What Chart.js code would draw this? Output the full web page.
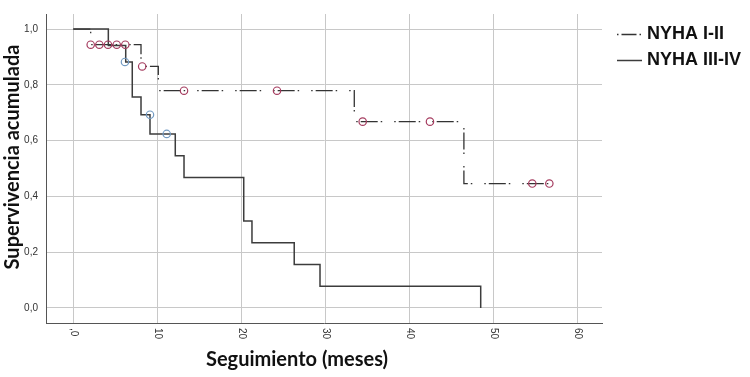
<!DOCTYPE html>
<html>
<head>
<meta charset="utf-8">
<script src="https://cdn.jsdelivr.net/npm/chart.js@4.4.0/dist/chart.umd.min.js"></script>
<style>
  body { margin: 0; background: #fff; }
  #wrap { width: 750px; height: 377px; }
</style>
</head>
<body>
<div id="wrap"><canvas id="km"></canvas></div>
<script>
// Curvas de Kaplan-Meier
const tiempoI = [0, 2.07, 8.06, 10.12, 33.45, 46.5, 56.67];
const survI = [1, 0.944, 0.866, 0.779, 0.668, 0.446, 0.446];
const censI_t = [2.07, 3.1, 4.13, 5.17, 6.19, 8.2, 13.18, 24.25, 34.45, 42.46, 54.64, 56.67];
const censI_s = [0.944, 0.944, 0.944, 0.944, 0.944, 0.866, 0.779, 0.779, 0.668, 0.668, 0.446, 0.446];

const tiempoIII = [0, 4.17, 6.24, 7.02, 8.06, 9.13, 12.14, 13.18, 20.29, 21.27, 26.3, 29.37, 48.5];
const survIII = [1, 0.941, 0.882, 0.756, 0.693, 0.624, 0.546, 0.468, 0.312, 0.234, 0.156, 0.078, 0];
const censIII_t = [6.15, 9.13, 11.12];
const censIII_s = [0.882, 0.693, 0.624];

const xTicks = [0, 10, 20, 30, 40, 50, 60];
const xLabels = [",0", "10", "20", "30", "40", "50", "60"];
const yTicks = [0, 0.2, 0.4, 0.6, 0.8, 1.0];
const yLabels = ["0,0", "0,2", "0,4", "0,6", "0,8", "1,0"];
const series = ["NYHA I-II", "NYHA III-IV"];

const puntos = (xs, ys) => xs.map((x, i) => ({ x: x, y: ys[i] }));

const rojo = "rgb(165, 60, 95)";
const azul = "rgb(115, 155, 195)";
const guion = [17, 3, 1.5, 12, 1.5, 3];

// dibuja etiquetas giradas del eje x, titulos y leyenda
const extras = {
  id: "extras",
  afterDraw(chart) {
    const ctx = chart.ctx;
    const xs = chart.scales.x;
    ctx.save();
    ctx.fillStyle = "#333";
    ctx.font = "10px 'Liberation Sans', Arial, sans-serif";
    ctx.textAlign = "left";
    ctx.textBaseline = "middle";
    xTicks.forEach((v, i) => {
      ctx.save();
      ctx.translate(xs.getPixelForValue(v), 328);
      ctx.rotate(Math.PI / 2);
      ctx.fillText(xLabels[i], 0, 0);
      ctx.restore();
    });

    ctx.fillStyle = "#111";
    ctx.font = "bold 20px Lato, sans-serif";
    ctx.textAlign = "center";
    ctx.textBaseline = "alphabetic";
    ctx.fillText("Seguimiento (meses)", 297, 366);
    ctx.save();
    ctx.translate(19, 157);
    ctx.rotate(-Math.PI / 2);
    ctx.fillText("Supervivencia acumulada", 0, 0);
    ctx.restore();

    // leyenda
    ctx.font = "bold 18px 'Liberation Sans', Arial, sans-serif";
    ctx.textAlign = "left";
    ctx.textBaseline = "middle";
    const ly = [34.5, 60.5];
    ctx.strokeStyle = "#333";
    ctx.lineWidth = 1.3;
    ctx.setLineDash([1.5, 3, 15, 3, 1.5, 20]);
    ctx.beginPath();
    ctx.moveTo(617, ly[0]);
    ctx.lineTo(642, ly[0]);
    ctx.stroke();
    ctx.setLineDash([]);
    ctx.strokeStyle = "#3c3c3c";
    ctx.lineWidth = 1.5;
    ctx.beginPath();
    ctx.moveTo(617, ly[1]);
    ctx.lineTo(642, ly[1]);
    ctx.stroke();
    series.forEach((s, i) => ctx.fillText(s, 647, ly[i]));
    ctx.restore();
  }
};

new Chart(document.getElementById("km"), {
  type: "line",
  data: {
    datasets: [
      {
        label: series[0] + " censurado",
        type: "scatter",
        data: puntos(censI_t, censI_s),
        pointStyle: "circle",
        pointRadius: 3.7,
        pointBorderWidth: 1.2,
        borderColor: rojo,
        backgroundColor: "rgba(0,0,0,0)",
        order: 0,
      },
      {
        label: series[1] + " censurado",
        type: "scatter",
        data: puntos(censIII_t, censIII_s),
        pointStyle: "circle",
        pointRadius: 3.7,
        pointBorderWidth: 1.2,
        borderColor: azul,
        backgroundColor: "rgba(0,0,0,0)",
        order: 0,
      },
      {
        label: series[1],
        data: puntos(tiempoIII, survIII),
        stepped: "before",
        borderColor: "#3c3c3c",
        borderWidth: 1.5,
        pointRadius: 0,
        fill: false,
        order: 1,
      },
      {
        label: series[0],
        data: puntos(tiempoI, survI),
        stepped: "before",
        borderColor: "#333",
        borderWidth: 1.3,
        borderDash: guion,
        pointRadius: 0,
        fill: false,
        order: 2,
      },
    ],
  },
  plugins: [extras],
  options: {
    responsive: true,
    maintainAspectRatio: false,
    animation: false,
    devicePixelRatio: 1,
    layout: { padding: { top: 7, right: 148, left: 0, bottom: 0 } },
    plugins: {
      legend: { display: false },
      tooltip: { enabled: false },
    },
    scales: {
      x: {
        type: "linear",
        min: -3.25,
        max: 62.94,
        afterBuildTicks: (s) => { s.ticks = xTicks.map((v) => ({ value: v })); },
        afterFit: (s) => { s.height = 54; },
        ticks: { display: false },
        grid: { color: "#c8c8c8", lineWidth: 1, drawTicks: false },
        border: { display: true, color: "#555", width: 1 },
      },
      y: {
        type: "linear",
        min: -0.054,
        max: 1.054,
        afterBuildTicks: (s) => { s.ticks = yTicks.map((v) => ({ value: v })); },
        afterFit: (s) => { s.width = 46; },
        ticks: {
          padding: 8,
          color: "#333",
          font: { family: "'Liberation Sans', Arial, sans-serif", size: 10 },
          callback: (v) => yLabels[yTicks.indexOf(Math.round(v * 10) / 10)],
        },
        grid: { color: "#c8c8c8", lineWidth: 1, drawTicks: false },
        border: { display: true, color: "#555", width: 1 },
      },
    },
  },
});
</script>
</body>
</html>
